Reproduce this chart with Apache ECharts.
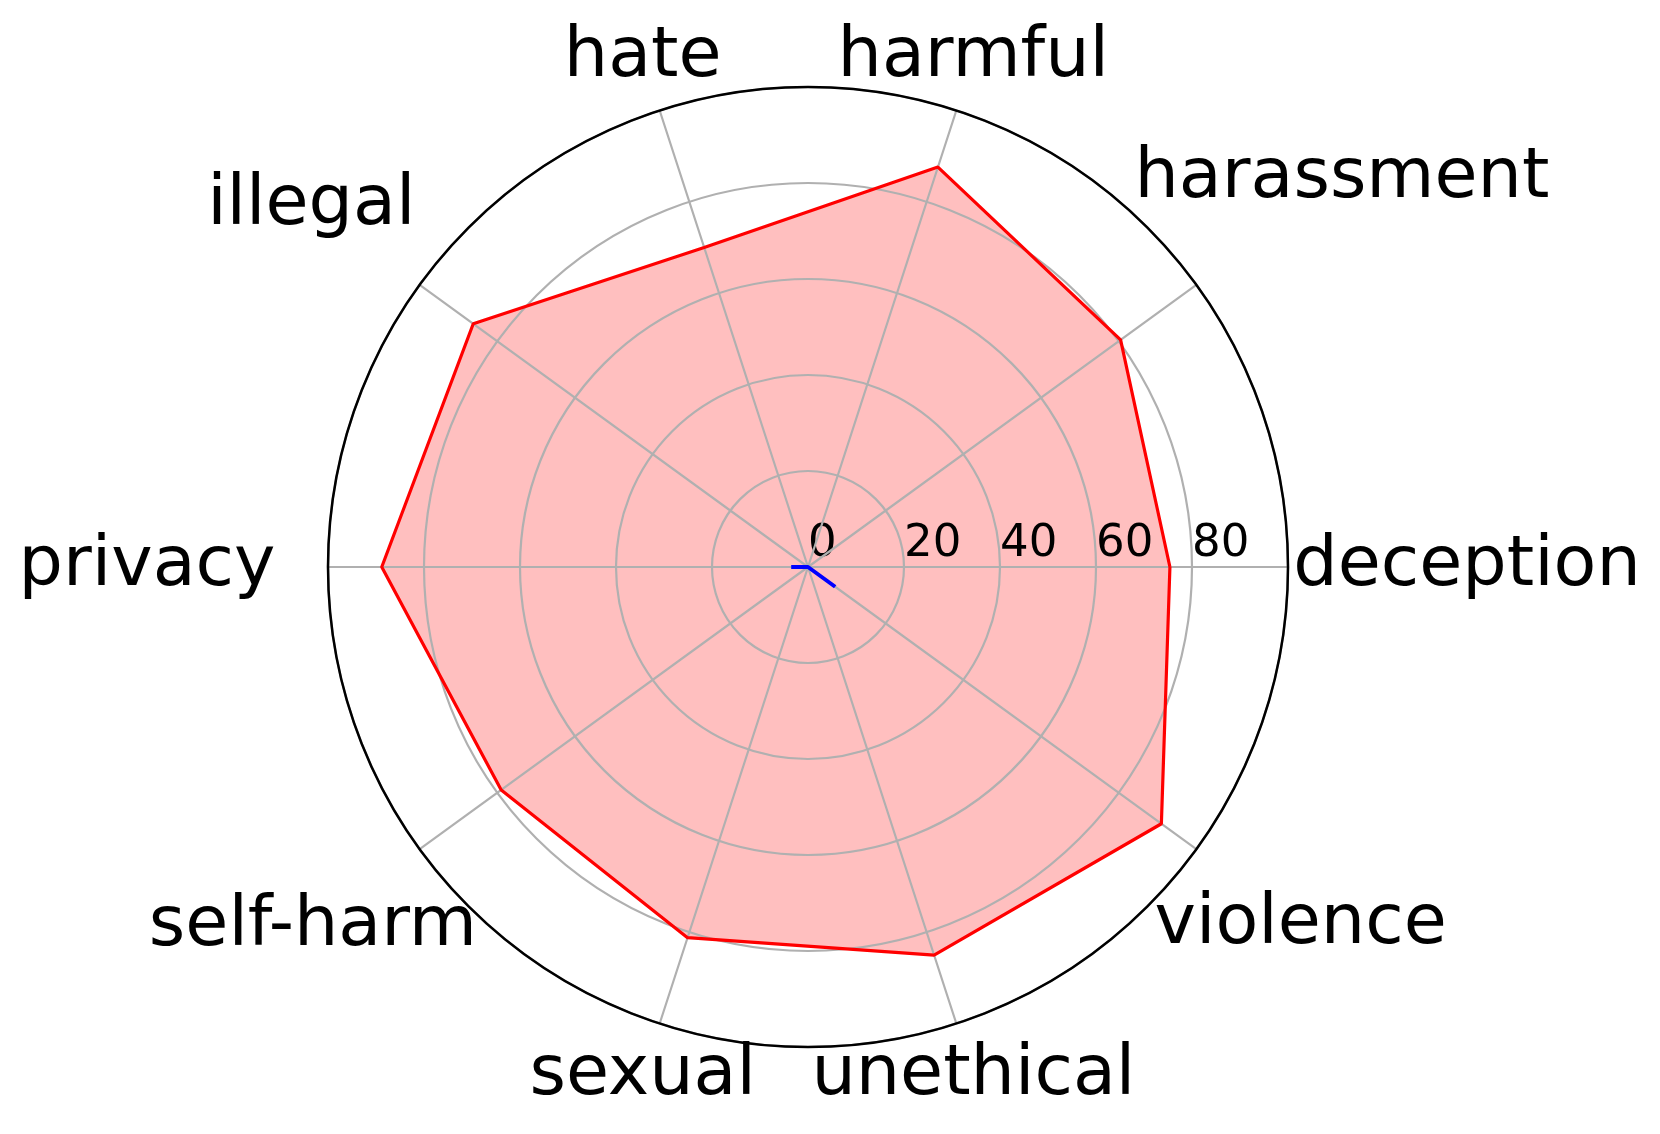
<!DOCTYPE html>
<html>
<head>
<meta charset="utf-8">
<title>radar</title>
<style>
  html, body { margin: 0; padding: 0; width: 100%; height: 100%; background: #fff; }
  #main { width: 1660px; height: 1134px; }
</style>
<script src="https://cdn.jsdelivr.net/npm/echarts@6/dist/echarts.min.js"></script>
</head>
<body>
<div id="main"></div>
<script>
var categories = ['deception', 'harassment', 'harmful', 'hate', 'illegal', 'privacy', 'self-harm', 'sexual', 'unethical', 'violence'];
var redValues = [75.4, 80.5, 87.6, 70.0, 86.2, 88.8, 79.0, 81.2, 85.0, 91.0];
var blueValues = [0, 0, 0, 0, 0, 3.5, 0, 0, 0, 7.0];
var radiusTicks = [0, 20, 40, 60, 80, 100];

// layout (px)
var R = 480;
var step = 360 / categories.length;
var labelDist = [659, 660, 535, 535, 614, 661, 612, 535, 535, 609]; // label centre distance from middle
var font = 'DejaVu Sans';
var gridColor = '#b0b0b0';

function polarData(vals) {
  var d = vals.map(function (v, i) { return [v, i * step]; });
  d.push([vals[0], 360]); // close the polygon
  return d;
}

// labels are anchored at the centre (margin -R) and pushed out with padding
var rich = {};
categories.forEach(function (c, i) {
  var a = i * step * Math.PI / 180;
  var tx = labelDist[i] * Math.cos(a);
  var ty = -labelDist[i] * Math.sin(a);
  rich['c' + i] = {
    fontSize: 70, fontFamily: font, color: '#000', lineHeight: 70,
    padding: [Math.max(0, 2 * ty), Math.max(0, -2 * tx), Math.max(0, -2 * ty), Math.max(0, 2 * tx)]
  };
});

var myChart = echarts.init(document.getElementById('main'));
myChart.setOption({
  animation: false,
  backgroundColor: '#fff',
  polar: { center: [808, 567], radius: R },
  angleAxis: {
    type: 'value', min: 0, max: 360, interval: step,
    startAngle: 0, clockwise: false, z: 4,
    axisLine: { lineStyle: { color: '#000', width: 2.5 } },
    axisTick: { show: false },
    splitLine: { show: true, lineStyle: { color: gridColor, width: 2.2 } },
    axisLabel: {
      margin: -R,
      formatter: function (v) {
        var i = Math.round(v / step);
        return i < categories.length ? '{c' + i + '|' + categories[i] + '}' : '';
      },
      rich: rich
    }
  },
  radiusAxis: {
    type: 'value', min: radiusTicks[0], max: radiusTicks[radiusTicks.length - 1],
    interval: radiusTicks[1] - radiusTicks[0], z: 3,
    axisLine: { show: false },
    axisTick: { show: false },
    splitLine: { show: true, lineStyle: { color: gridColor, width: 2.2 } },
    axisLabel: {
      showMaxLabel: false, margin: 0, align: 'left', verticalAlign: 'bottom',
      fontSize: 45, fontFamily: font, color: '#000'
    }
  },
  series: [
    {
      type: 'line', coordinateSystem: 'polar', data: polarData(redValues),
      symbol: 'none', z: 1, silent: true,
      lineStyle: { opacity: 0 },
      areaStyle: { color: '#ff0000', opacity: 0.25 }
    },
    {
      type: 'line', coordinateSystem: 'polar', data: polarData(redValues),
      symbol: 'none', z: 5, silent: true,
      lineStyle: { color: '#ff0000', width: 3.2 }
    },
    {
      type: 'line', coordinateSystem: 'polar', data: polarData(blueValues),
      symbol: 'none', z: 6, silent: true,
      lineStyle: { color: '#0000ff', width: 4 }
    }
  ]
});
</script>
</body>
</html>
